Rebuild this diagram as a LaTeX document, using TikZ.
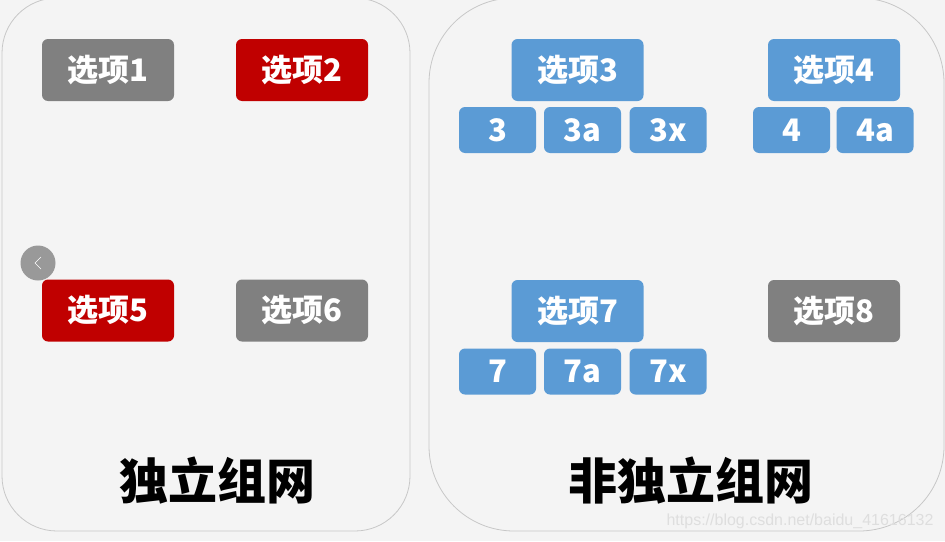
\documentclass[tikz,border=0pt]{standalone}
\usepackage{fontspec}
\setmainfont{Noto Sans CJK SC}
\newfontfamily\cjk{Noto Sans CJK SC}
\newfontfamily\markfont{Liberation Sans}
\definecolor{optgray}{HTML}{808080}
\definecolor{optred}{HTML}{C00000}
\definecolor{optblue}{HTML}{5B9BD5}
\definecolor{panelbg}{HTML}{F4F4F4}
\begin{document}
\begin{tikzpicture}[x=1pt,y=-1pt,
    option/.style={rounded corners=6pt, minimum width=132pt, minimum height=62pt,
        inner sep=0pt, text=white, font=\cjk\bfseries\fontsize{31}{31}\selectfont},
    band/.style={option, fill=optblue, minimum width=77pt, minimum height=46pt},
    panel/.style={draw=black!22, fill=panelbg, line width=0.8pt}]
        % Page
        \useasboundingbox (0,0) rectangle (945,541);
        \fill[panelbg] (0,0) rectangle (945,541);

        % Two panels
        \draw[panel, rounded corners=55pt] (2,-2) rectangle (410,531);
        \draw[panel, rounded corners=85pt] (429,-2) rectangle (944,531);

        % Left panel: independent options
        \node[option, fill=optgray] (opt1) at (108,70) {选项1};
        \node[option, fill=optred] (opt2) at (302,70) {选项2};
        \node[option, fill=optred] (opt5) at (108,310.5) {选项5};
        \node[option, fill=optgray] (opt6) at (302,310.5) {选项6};

        % Back button
        \node[circle, fill=black!40, minimum size=35pt, inner sep=0pt] (back) at (38,263) {};
        \draw[white, line width=0.7pt] (41,257) -- (35,263) -- (41,269);

        % Right panel: options with their bands
        \node[option, fill=optblue] (opt3) at (577.5,70) {选项3};
        \node[band] (b3) at (497.5,130) {3};
        \node[band] (b3a) at (582.5,130) {3a};
        \node[band] (b3x) at (668,130) {3x};

        \node[option, fill=optblue] (opt4) at (834,70) {选项4};
        \node[band] (b4) at (791.5,130) {4};
        \node[band] (b4a) at (875,130) {4a};

        \node[option, fill=optblue] (opt7) at (577.5,311) {选项7};
        \node[band] (b7) at (497.5,371.5) {7};
        \node[band] (b7a) at (582.5,371.5) {7a};
        \node[band] (b7x) at (668,371.5) {7x};

        \node[option, fill=optgray] (opt8) at (834,311) {选项8};

        % Titles
        \node[font=\cjk\bfseries\fontsize{49}{49}\selectfont] (title1) at (217,481) {独立组网};
        \node[font=\cjk\bfseries\fontsize{49}{49}\selectfont] (title2) at (691,481) {非独立组网};

        % Watermark
        \node[anchor=east, text=black!13, font=\markfont\fontsize{16}{16}\selectfont] (mark) at (937,521) {https://blog.csdn.net/baidu\_41616132};
    \end{tikzpicture}
\end{document}
